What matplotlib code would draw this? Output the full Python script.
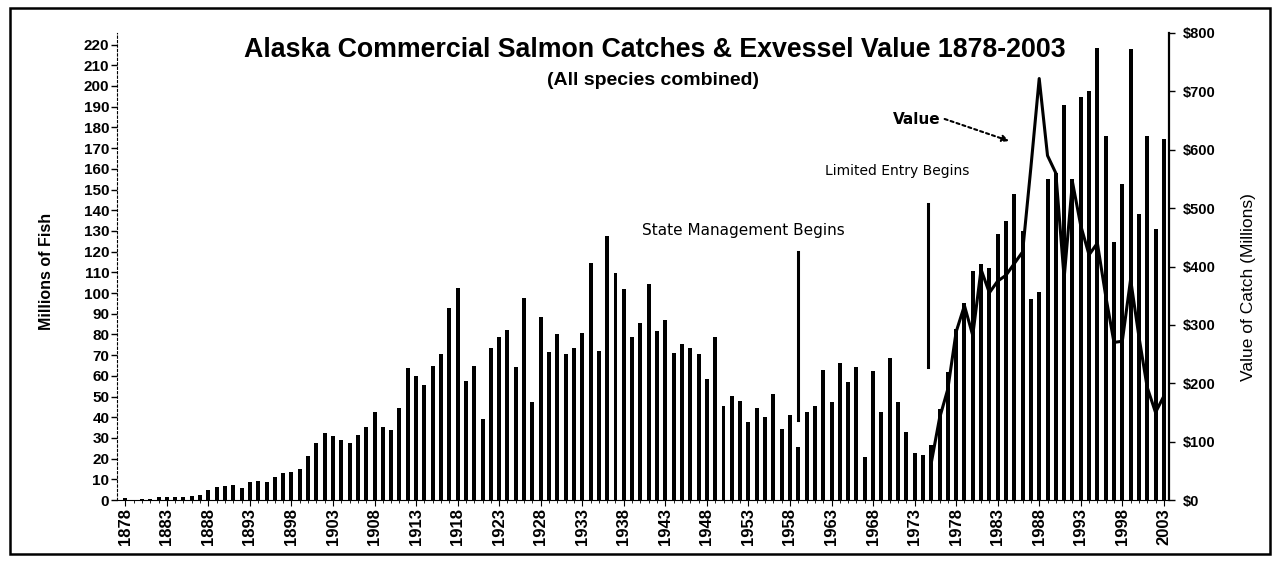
import numpy as np
import matplotlib
matplotlib.use("Agg")
import matplotlib.pyplot as plt
from matplotlib.patches import Rectangle

plt.rcParams['font.family'] = ['Liberation Sans', 'DejaVu Sans']

# catch, millions of fish, 1878-2003
years = np.arange(1878, 2004)
catch = [
    0.8, 0.2, 0.4, 0.3, 1.5, 1.5, 1.5, 1.5, 1.8, 2.2,            # 1878-1887
    4.8, 6.3, 7.0, 7.3, 6.0, 8.5, 9.0, 8.5, 11.0, 13.0,         # 1888-1897
    13.6, 14.8, 21.5, 27.5, 32.6, 30.8, 29.1, 27.5, 31.5, 35.3,  # 1898-1907
    42.7, 35.1, 33.8, 44.6, 63.6, 60.0, 55.7, 64.6, 70.4, 92.6,  # 1908-1917
    102.6, 57.6, 64.6, 39.1, 73.3, 78.7, 82.3, 64.1, 97.4, 47.5,  # 1918-1927
    88.6, 71.5, 80.2, 70.4, 73.3, 80.5, 114.5, 72.1, 127.4, 109.7,  # 1928-1937
    101.9, 78.9, 85.5, 104.3, 81.5, 87.1, 70.9, 75.5, 73.3, 70.4,  # 1938-1947
    58.5, 78.6, 45.6, 50.4, 48.0, 37.5, 44.3, 40.0, 51.2, 34.3,  # 1948-1957
    41.3, 25.8, 42.4, 45.6, 63.0, 47.5, 66.0, 57.2, 64.1, 20.6,  # 1958-1967
    62.5, 42.4, 68.6, 47.2, 32.7, 22.7, 21.7, 26.6, 44.0, 62.0,  # 1968-1977
    82.6, 95.0, 110.5, 114.0, 112.0, 128.5, 135.0, 148.0, 130.0, 97.0,  # 1978-1987
    100.3, 155.0, 158.0, 191.0, 155.0, 194.7, 197.5, 218.5, 176.0, 124.5,  # 1988-1997
    152.7, 218.0, 138.0, 176.0, 131.0, 174.4,                    # 1998-2003
]

# exvessel value, $ millions, 1975-2003
value_years = np.arange(1975, 2004)
value = [
    63, 140, 190, 288, 333, 282, 395, 355, 375, 385,
    405, 425, 570, 722, 590, 560, 380, 545, 470, 420,
    440, 350, 270, 272, 378, 280, 193, 150, 178,
]

label_years = np.arange(1878, 2004, 5)

fig = plt.figure(figsize=(12.76, 5.65), dpi=100)
ax = fig.add_axes([0.0917, 0.115, 0.8243, 0.8266])

ax.bar(years, catch, width=0.48, color='black', zorder=2)

ax.set_xlim(1877.0, 2003.6)
ax.set_ylim(0, 225.6)
ax.set_yticks(np.arange(0, 221, 10))
ax.set_xticks(label_years)
ax.set_xticks(years, minor=True)
ax.set_xticklabels([str(y) for y in label_years], rotation=90,
                   fontsize=12, fontweight='bold')
for lab in ax.get_yticklabels():
    lab.set_fontsize(11)
    lab.set_fontweight('bold')
ax.tick_params(axis='y', length=4, width=1, pad=1.5)
ax.tick_params(axis='x', which='major', length=4, width=0.8, pad=2)
ax.tick_params(axis='x', which='minor', length=2, width=0.6)

ax.spines['top'].set_visible(False)
ax.spines['right'].set_visible(False)
ax.spines['left'].set_linestyle((0, (2, 2)))
ax.spines['left'].set_linewidth(0.8)
ax.spines['bottom'].set_linewidth(0.8)
ax.set_ylabel('Millions of Fish', fontsize=11.5, fontweight='bold')
ax.yaxis.set_label_coords(-0.06, 0.49)

# value on right axis
ax2 = ax.twinx()
ax2.plot(value_years, value, color='black', lw=2.2, zorder=3)
ax2.set_ylim(0, 800)
ax2.set_yticks(np.arange(0, 801, 100))
ax2.set_yticklabels([f'${v}' for v in range(0, 801, 100)],
                    fontsize=10.5, fontweight='bold')
ax2.tick_params(axis='y', length=4, width=1, pad=6)
for s in ['top', 'left', 'bottom']:
    ax2.spines[s].set_visible(False)
ax2.spines['right'].set_linewidth(1.6)
ax2.set_ylabel('Value of Catch (Millions)', fontsize=12.5)
ax2.yaxis.set_label_coords(1.069, 0.456)

# annotations
ax.plot([1959, 1959], [38.6, 119.8], color='black', lw=2.2, zorder=3)
ax.text(1952.4, 130, 'State Management Begins', ha='center', va='center',
        fontsize=11, family='DejaVu Sans')
ax.plot([1974.6, 1974.6], [64.3, 143], color='black', lw=2.2, zorder=3)
ax.text(1970.9, 159, 'Limited Entry Begins', ha='center', va='center',
        fontsize=10, family='DejaVu Sans')
ax.text(1973.3, 184, 'Value', ha='center', va='center',
        fontsize=11, family='DejaVu Sans', fontweight='bold')
ax.annotate('', xy=(1984.7, 173), xytext=(1976.3, 184.5),
            arrowprops=dict(arrowstyle='-|>', linestyle=(0, (1.5, 1.5)),
                            color='black', lw=1.5, mutation_scale=10))

fig.text(0.513, 0.912, 'Alaska Commercial Salmon Catches & Exvessel Value 1878-2003',
         ha='center', va='center', fontsize=19.3, fontweight='bold')
fig.text(0.512, 0.858, '(All species combined)', ha='center', va='center',
         fontsize=14, fontweight='bold')

fig.patches.append(Rectangle((0.008, 0.02), 0.987, 0.966, transform=fig.transFigure,
                             fill=False, edgecolor='black', lw=1.8))

fig.savefig('out.png', dpi=100)
